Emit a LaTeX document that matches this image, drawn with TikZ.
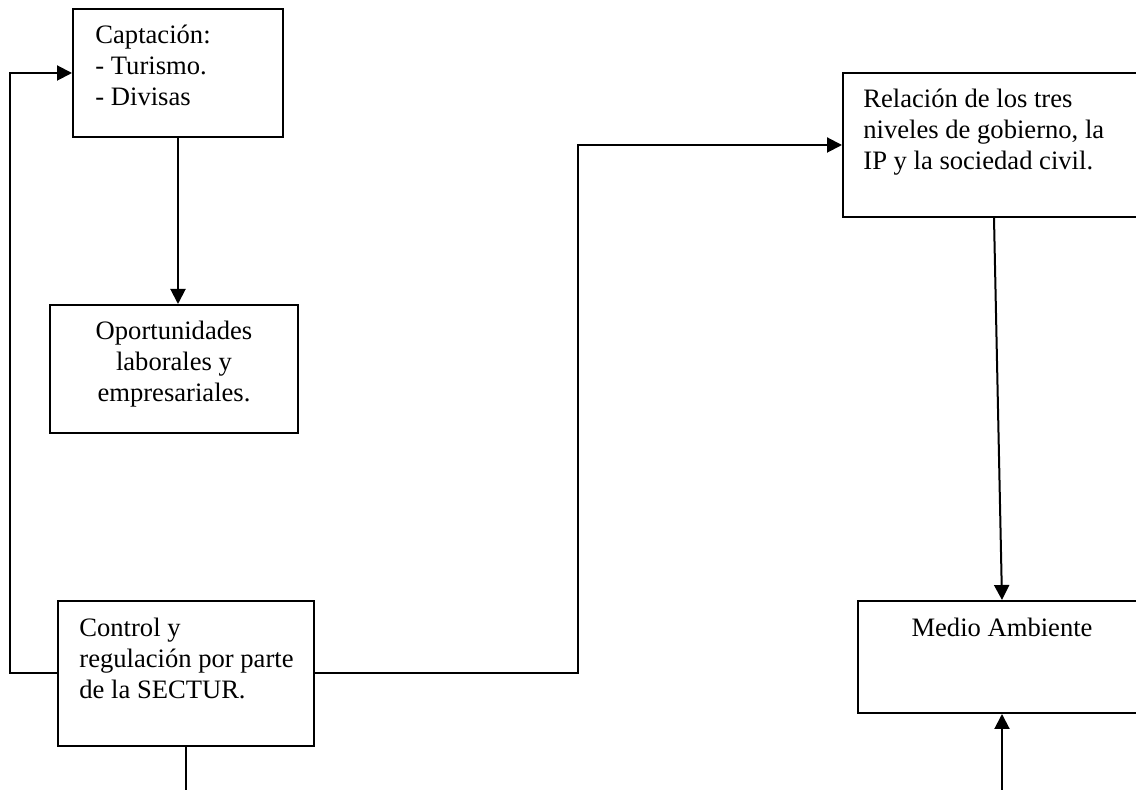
\documentclass[tikz,border=0pt]{standalone}
\usepackage{fontspec}
\setmainfont{Liberation Serif}
\usepackage{tikz}
\usetikzlibrary{arrows.meta,fit}
\newcommand{\izq}[1]{\begin{tabular}[t]{@{}l@{}}#1\end{tabular}}
\newcommand{\cen}[1]{\begin{tabular}[t]{@{}c@{}}#1\end{tabular}}

\begin{document}
\begin{tikzpicture}[x=0.5pt,y=-0.5pt,
    caja/.style={draw, line width=1pt, inner sep=0pt},
    texto/.style={inner sep=0pt, font=\fontsize{13.3}{15.5}\selectfont},
    flecha/.style={line width=1pt, -{Triangle[length=7.5pt,width=7.5pt]}}]
    \useasboundingbox (0,0) rectangle (1136,790);
    \clip (0,0) rectangle (1136,790);

    \node[caja, fit={(73,9) (283,137)}] (capt) {};
    \node[caja, fit={(50,305) (298,433)}] (oport) {};
    \node[caja, fit={(58,601) (314,746)}] (control) {};
    \node[caja, fit={(843,73) (1145,217)}] (relacion) {};
    \node[caja, fit={(858,601) (1146,713)}] (medio) {};

    \node[texto, anchor=base west] (captT) at (95,44) {\izq{Captación:\\- Turismo.\\- Divisas}};
    \node[texto, anchor=base] (oportT) at (174,340) {\cen{Oportunidades\\laborales y\\empresariales.}};
    \node[texto, anchor=base west] (controlT) at (79,637) {\izq{Control y\\regulación por parte\\de la SECTUR.}};
    \node[texto, anchor=base west] (relacionT) at (863,108) {\izq{Relación de los tres\\niveles de gobierno, la\\IP y la sociedad civil.}};
    \node[texto, anchor=base] (medioT) at (1002,637) {Medio Ambiente};

    \coordinate (bordeI) at (10,0);
    \coordinate (codo) at (578,0);
    \coordinate (pie) at (0,800);

    \draw[flecha] (capt.south) -- (capt.south |- oport.north);
    \draw[flecha] (control.west) -- (control.west -| bordeI) |- (capt.west);
    \draw[flecha] (control.east) -- (control.east -| codo) |- (relacion.west);
    \draw[flecha] (relacion.south) -- (medio.north);
    \draw[line width=1pt] (control.south) -- (control.south |- pie);
    \draw[flecha] (medio.south |- pie) -- (medio.south);
\end{tikzpicture}
\end{document}
